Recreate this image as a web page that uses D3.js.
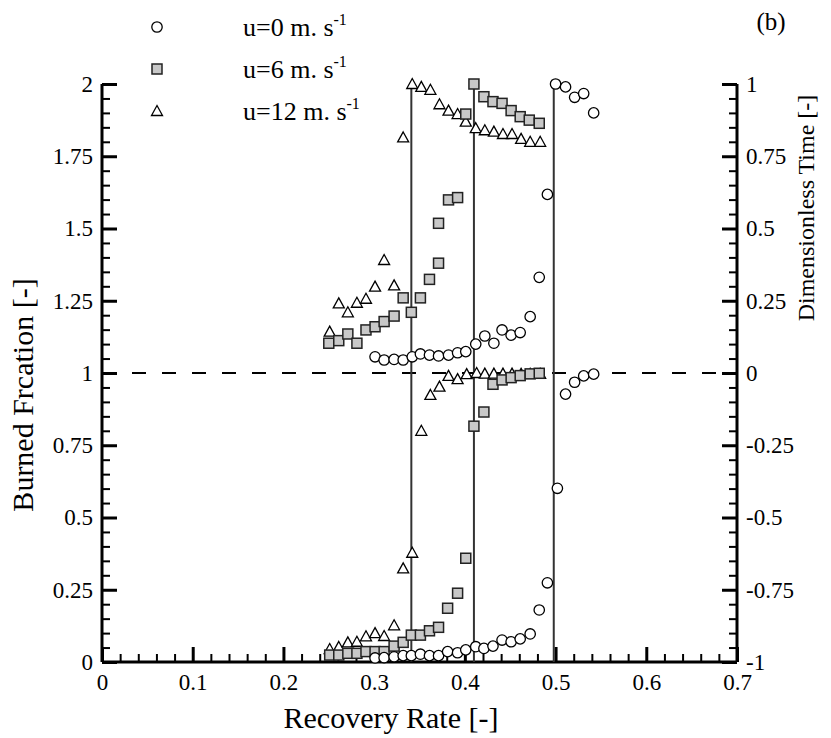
<!DOCTYPE html>
<html>
<head>
<meta charset="utf-8">
<script src="https://cdn.jsdelivr.net/npm/d3@7/dist/d3.min.js"></script>
<style>
  html, body { margin: 0; padding: 0; background: #fff; }
  svg { display: block; }
  svg text { font-family: "Liberation Serif", "DejaVu Serif", serif !important; fill: #000; }
</style>
</head>
<body>
<svg id="chart" width="831" height="738"></svg>
<script>
// ---------------- DATA ----------------
const xTicks = [0, 0.1, 0.2, 0.3, 0.4, 0.5, 0.6, 0.7];
const xTickLabels = ["0", "0.1", "0.2", "0.3", "0.4", "0.5", "0.6", "0.7"];
const yLeftTicks = [0, 0.25, 0.5, 0.75, 1, 1.25, 1.5, 1.75, 2];
const yLeftTickLabels = ["0", "0.25", "0.5", "0.75", "1", "1.25", "1.5", "1.75", "2"];
const yRightTicks = [-1, -0.75, -0.5, -0.25, 0, 0.25, 0.5, 0.75, 1];
const yRightTickLabels = ["-1", "-0.75", "-0.5", "-0.25", "0", "0.25", "0.5", "0.75", "1"];

const legendLabels = ["u=0 m. s", "u=6 m. s", "u=12 m. s"];
const legendSup = "-1";

// transition lines (recovery rate)
const transitionX = [0.341, 0.41, 0.498];
const referenceY = 1;

// u = 0 m/s (circles)  [recovery rate, value on left axis]
const u0Fraction = [[0.301,0.014],[0.311,0.015],[0.322,0.018],[0.332,0.022],[0.341,0.022],[0.351,0.027],[0.361,0.022],[0.371,0.022],[0.381,0.036],[0.392,0.032],[0.401,0.042],[0.412,0.053],[0.421,0.047],[0.431,0.055],[0.441,0.076],[0.451,0.07],[0.461,0.08],[0.472,0.097],[0.482,0.18],[0.491,0.274],[0.502,0.601]];
const u0TimeBefore = [[0.301,1.056],[0.311,1.045],[0.322,1.047],[0.332,1.045],[0.342,1.056],[0.351,1.066],[0.361,1.062],[0.371,1.059],[0.382,1.062],[0.392,1.07],[0.401,1.074],[0.412,1.10],[0.422,1.128],[0.432,1.103],[0.441,1.149],[0.451,1.131],[0.461,1.14],[0.472,1.195],[0.482,1.331],[0.491,1.618]];
const u0TimeAfter = [[0.5,2.0],[0.511,1.99],[0.521,1.954],[0.531,1.967],[0.542,1.9]];
const u0FractionAfter = [[0.511,0.927],[0.521,0.968],[0.531,0.99],[0.542,0.996]];

// u = 6 m/s (squares)
const u6Fraction = [[0.251,0.024],[0.261,0.024],[0.271,0.03],[0.281,0.03],[0.291,0.036],[0.301,0.036],[0.311,0.036],[0.322,0.055],[0.332,0.068],[0.341,0.093],[0.351,0.093],[0.361,0.108],[0.371,0.12],[0.381,0.186],[0.392,0.238],[0.401,0.359]];
const u6TimeBefore = [[0.25,1.103],[0.261,1.112],[0.271,1.135],[0.281,1.103],[0.291,1.149],[0.301,1.16],[0.311,1.178],[0.322,1.197],[0.332,1.26],[0.341,1.21],[0.351,1.26],[0.361,1.324],[0.371,1.38],[0.371,1.518],[0.382,1.599],[0.392,1.607],[0.401,1.896]];
const u6TimeAfter = [[0.41,2.0],[0.421,1.956],[0.431,1.939],[0.441,1.933],[0.451,1.908],[0.461,1.887],[0.471,1.875],[0.482,1.864]];
const u6FractionAfter = [[0.41,0.816],[0.421,0.865],[0.431,0.961],[0.441,0.976],[0.451,0.984],[0.461,0.991],[0.472,0.997],[0.482,0.999]];

// u = 12 m/s (triangles)
const u12Fraction = [[0.251,0.045],[0.261,0.052],[0.271,0.068],[0.281,0.07],[0.291,0.089],[0.301,0.1],[0.311,0.09],[0.322,0.127],[0.332,0.324],[0.342,0.378]];
const u12TimeBefore = [[0.251,1.143],[0.261,1.241],[0.271,1.21],[0.281,1.243],[0.291,1.257],[0.301,1.299],[0.311,1.391],[0.322,1.303],[0.332,1.815]];
const u12TimeAfter = [[0.342,2.0],[0.352,1.99],[0.362,1.98],[0.372,1.93],[0.382,1.908],[0.392,1.896],[0.401,1.87],[0.412,1.847],[0.422,1.84],[0.432,1.835],[0.442,1.827],[0.452,1.827],[0.462,1.81],[0.472,1.80],[0.483,1.80]];
const u12FractionAfter = [[0.352,0.80],[0.362,0.924],[0.372,0.953],[0.382,0.99],[0.392,0.979],[0.402,0.996],[0.413,1.0],[0.422,0.998],[0.432,0.998],[0.442,0.998],[0.452,0.998],[0.462,0.997],[0.472,0.997],[0.483,0.997]];

// ---------------- CHART ----------------
const FONT = '"Liberation Serif", "DejaVu Serif", serif';
const svg = d3.select("#chart");
const W = 831, H = 738;
const m = {left: 102, right: 94, top: 84, bottom: 76};

const x = d3.scaleLinear().domain([0, 0.7]).range([m.left, W - m.right]);
const y = d3.scaleLinear().domain([0, 2]).range([H - m.bottom, m.top]);
const yR = d3.scaleLinear().domain([-1, 1]).range([H - m.bottom, m.top]);

const tickFont = "23px";
const minorX = d3.range(0, 0.7001, 0.02).filter(v => Math.abs(v*10 - Math.round(v*10)) > 1e-6);
const minorY = d3.range(0, 2.0001, 0.05).filter(v => Math.abs(v*4 - Math.round(v*4)) > 1e-6);
const minorYR = d3.range(-1, 1.0001, 0.05).filter(v => Math.abs(v*4 - Math.round(v*4)) > 1e-6);

// minor ticks
svg.append("g").attr("transform", `translate(0,${y(0)})`)
  .call(d3.axisBottom(x).tickValues(minorX).tickSize(-8).tickFormat(""))
  .call(g => g.select(".domain").remove())
  .call(g => g.selectAll("line").attr("stroke-width", 2));
svg.append("g").attr("transform", `translate(${x(0)},0)`)
  .call(d3.axisLeft(y).tickValues(minorY).tickSize(-8).tickFormat(""))
  .call(g => g.select(".domain").remove())
  .call(g => g.selectAll("line").attr("stroke-width", 2));
svg.append("g").attr("transform", `translate(${x(0.7)},0)`)
  .call(d3.axisRight(yR).tickValues(minorYR).tickSize(-8).tickFormat(""))
  .call(g => g.select(".domain").remove())
  .call(g => g.selectAll("line").attr("stroke-width", 2));

// major axes
const xAxis = svg.append("g").attr("transform", `translate(0,${y(0)})`)
  .call(d3.axisBottom(x).tickValues(xTicks).tickSize(-15).tickPadding(10)
        .tickFormat((d, i) => xTickLabels[i]));
xAxis.attr("font-family", FONT);
xAxis.select(".domain").attr("stroke-width", 3).attr("d", `M${x(0)},0H${x(0.7)}`);
xAxis.selectAll(".tick line").attr("stroke-width", 3);
xAxis.selectAll("text").style("font-size", tickFont).attr("dy", "0.85em").attr("y", 8);

const yAxis = svg.append("g").attr("transform", `translate(${x(0)},0)`)
  .call(d3.axisLeft(y).tickValues(yLeftTicks).tickSize(-15).tickPadding(8)
        .tickFormat((d, i) => yLeftTickLabels[i]));
yAxis.attr("font-family", FONT);
yAxis.select(".domain").attr("stroke-width", 3).attr("d", `M0,${y(0)}V${y(2)}`);
yAxis.selectAll(".tick line").attr("stroke-width", 3);
yAxis.selectAll("text").style("font-size", tickFont).attr("x", -9);

const yAxisR = svg.append("g").attr("transform", `translate(${x(0.7)},0)`)
  .call(d3.axisRight(yR).tickValues(yRightTicks).tickSize(-15).tickPadding(8)
        .tickFormat((d, i) => yRightTickLabels[i]));
yAxisR.attr("font-family", FONT);
yAxisR.select(".domain").attr("stroke-width", 3).attr("d", `M0,${yR(-1)}V${yR(1)}`);
yAxisR.selectAll(".tick line").attr("stroke-width", 3);
yAxisR.selectAll("text").style("font-size", tickFont).attr("x", 9);

// reference dashed line
svg.append("line")
  .attr("x1", x(0)).attr("x2", x(0.7))
  .attr("y1", y(referenceY)).attr("y2", y(referenceY))
  .attr("stroke", "#000").attr("stroke-width", 2)
  .attr("stroke-dasharray", "14,16");

// transition lines
svg.selectAll(".trans").data(transitionX).join("line")
  .attr("class", "trans")
  .attr("x1", d => x(d)).attr("x2", d => x(d))
  .attr("y1", y(0)).attr("y2", y(2))
  .attr("stroke", "#333").attr("stroke-width", 2);

// marker drawers
const sqSize = 10;
function drawCircles(data) {
  svg.append("g").selectAll("circle").data(data).join("circle")
    .attr("cx", d => x(d[0])).attr("cy", d => y(d[1])).attr("r", 5.2)
    .attr("fill", "#fff").attr("stroke", "#000").attr("stroke-width", 1.3);
}
function drawSquares(data) {
  svg.append("g").selectAll("rect").data(data).join("rect")
    .attr("x", d => x(d[0]) - sqSize/2).attr("y", d => y(d[1]) - sqSize/2)
    .attr("width", sqSize).attr("height", sqSize)
    .attr("fill", "#c8c8c8").attr("stroke", "#222").attr("stroke-width", 1.5);
}
const triPath = "M0,-5.5L5.5,4.5L-5.5,4.5Z";
function drawTriangles(data) {
  svg.append("g").selectAll("path").data(data).join("path")
    .attr("d", triPath)
    .attr("transform", d => `translate(${x(d[0])},${y(d[1])})`)
    .attr("fill", "#fff").attr("stroke", "#000").attr("stroke-width", 1.3);
}

drawTriangles(u12Fraction); drawTriangles(u12TimeBefore); drawTriangles(u12TimeAfter); drawTriangles(u12FractionAfter);
drawSquares(u6Fraction); drawSquares(u6TimeBefore); drawSquares(u6TimeAfter); drawSquares(u6FractionAfter);
drawCircles(u0Fraction); drawCircles(u0TimeBefore); drawCircles(u0TimeAfter); drawCircles(u0FractionAfter);

// legend
const legRows = [27, 69, 111];
const lg = svg.append("g");
lg.append("circle").attr("cx", 157).attr("cy", legRows[0]).attr("r", 5.2)
  .attr("fill", "#fff").attr("stroke", "#000").attr("stroke-width", 1.3);
lg.append("rect").attr("x", 157 - sqSize/2).attr("y", legRows[1] - sqSize/2)
  .attr("width", sqSize).attr("height", sqSize)
  .attr("fill", "#c8c8c8").attr("stroke", "#222").attr("stroke-width", 1.5);
lg.append("path").attr("d", triPath).attr("transform", `translate(157,${legRows[2]})`)
  .attr("fill", "#fff").attr("stroke", "#000").attr("stroke-width", 1.3);
legendLabels.forEach((lab, i) => {
  const t = lg.append("text").attr("x", 243).attr("y", legRows[i] + 9).style("font-size", "26px");
  t.append("tspan").text(lab);
  t.append("tspan").attr("dy", -11).style("font-size", "16px").text(legendSup);
});

// panel label
svg.append("text").attr("x", 771).attr("y", 30).attr("text-anchor", "middle")
  .style("font-size", "25px").text("(b)");

// axis titles
svg.append("text").attr("x", 391).attr("y", 728).attr("text-anchor", "middle")
  .style("font-size", "30px").text("Recovery Rate [-]");
svg.append("text").attr("transform", `translate(33,395) rotate(-90)`)
  .attr("text-anchor", "middle").style("font-size", "30px").text("Burned Frcation [-]");
svg.append("text").attr("transform", `translate(814,208) rotate(-90)`)
  .attr("text-anchor", "middle").style("font-size", "24px").text("Dimensionless Time [-]");
</script>
</body>
</html>
